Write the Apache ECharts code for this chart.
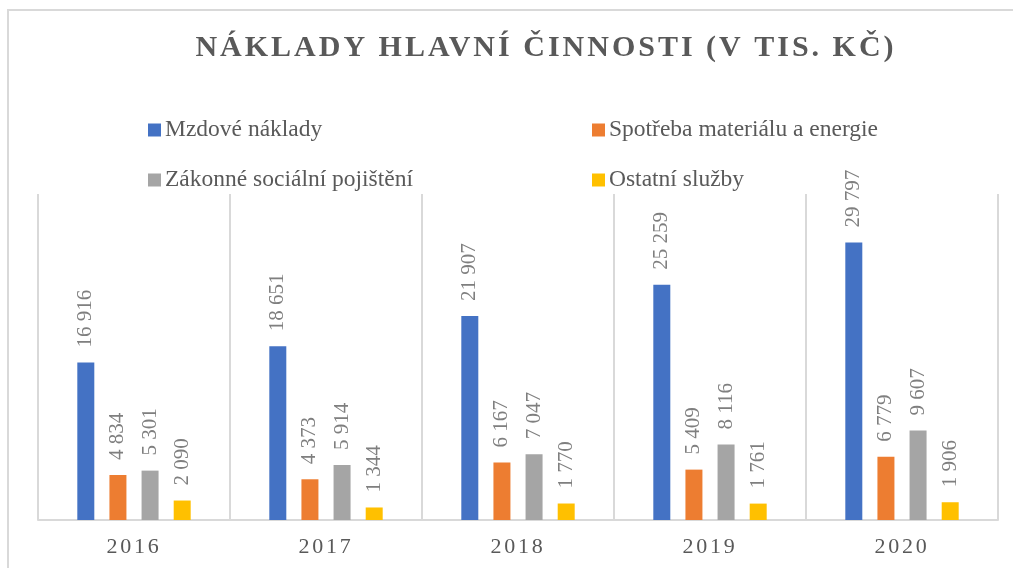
<!DOCTYPE html>
<html>
<head>
<meta charset="utf-8">
<script src="https://cdn.jsdelivr.net/npm/echarts@6/dist/echarts.min.js"></script>
<style>
html,body{margin:0;padding:0;background:#fff;}
#chart{width:1013px;height:568px;}
</style>
</head>
<body>
<div id="chart"></div>
<script>
const titleText = 'NÁKLADY HLAVNÍ ČINNOSTI (V TIS. KČ)';
const categories = ['2016', '2017', '2018', '2019', '2020'];
const seriesNames = ['Mzdové náklady', 'Spotřeba materiálu a energie', 'Zákonné sociální pojištění', 'Ostatní služby'];
const mzdove = [16916, 18651, 21907, 25259, 29797];
const spotreba = [4834, 4373, 6167, 5409, 6779];
const pojisteni = [5301, 5914, 7047, 8116, 9607];
const sluzby = [2090, 1344, 1770, 1761, 1906];
const colors = ['#4472C4', '#ED7D31', '#A5A5A5', '#FFC000'];

// letter spacing for the title and category labels only (canvas native letterSpacing)
(function () {
  const proto = CanvasRenderingContext2D.prototype;
  const orig = proto.fillText;
  proto.fillText = function (t, x, y, w) {
    let ls = null;
    if (t === titleText) ls = '3px';
    else if (categories.indexOf(t) >= 0) ls = '2.7px';
    if (ls !== null && 'letterSpacing' in this) {
      this.save();
      const f = this.font;
      this.letterSpacing = ls;
      this.font = f;
      const r = w === undefined ? orig.call(this, t, x, y) : orig.call(this, t, x, y, w);
      this.restore();
      return r;
    }
    return w === undefined ? orig.call(this, t, x, y) : orig.call(this, t, x, y, w);
  };
})();

const fmt = v => String(v).replace(/\B(?=(\d{3})+(?!\d))/g, ' ');
const serif = '"Liberation Serif", "Times New Roman", serif';

function mkSeries(name, data, color) {
  return {
    name: name,
    type: 'bar',
    data: data,
    barWidth: 17,
    barGap: '89%',
    itemStyle: { color: color },
    label: {
      show: true,
      position: 'top',
      rotate: 90,
      align: 'left',
      verticalAlign: 'middle',
      distance: 15,
      fontFamily: serif,
      fontSize: 21,
      color: '#7f7f7f',
      formatter: p => fmt(p.value)
    }
  };
}

const legendText = { fontFamily: serif, fontSize: 23.5, color: '#595959', padding: [0, 0, 0, -1] };

const chart = echarts.init(document.getElementById('chart'));
chart.setOption({
  animation: false,
  backgroundColor: '#fff',
  color: colors,
  graphic: [{
    type: 'rect',
    shape: { x: 8, y: 10, width: 1200, height: 700 },
    style: { fill: 'none', stroke: '#d9d9d9', lineWidth: 2 },
    silent: true
  }],
  title: {
    text: titleText,
    left: 541,
    textAlign: 'center',
    top: 28,
    textStyle: { fontFamily: serif, fontWeight: 'bold', fontSize: 30, color: '#595959' }
  },
  legend: [{
    data: [seriesNames[0], seriesNames[2]],
    orient: 'vertical',
    left: 143,
    top: 113,
    itemGap: 26,
    itemWidth: 13,
    itemHeight: 13,
    icon: 'rect',
    textStyle: legendText
  }, {
    data: [seriesNames[1], seriesNames[3]],
    orient: 'vertical',
    left: 587,
    top: 113,
    itemGap: 26,
    itemWidth: 13,
    itemHeight: 13,
    icon: 'rect',
    textStyle: legendText
  }],
  grid: { left: 38, right: 15, top: 194, bottom: 48, containLabel: false },
  xAxis: {
    type: 'category',
    data: categories,
    axisLine: { lineStyle: { color: '#d9d9d9', width: 2 } },
    axisTick: { show: false },
    splitLine: { show: true, lineStyle: { color: '#d9d9d9', width: 2 } },
    axisLabel: { fontFamily: serif, fontSize: 22, color: '#595959', margin: 16 }
  },
  yAxis: {
    type: 'value',
    min: 0,
    max: 35000,
    interval: 5000,
    show: false,
    splitLine: { show: false }
  },
  series: [
    mkSeries(seriesNames[0], mzdove, colors[0]),
    mkSeries(seriesNames[1], spotreba, colors[1]),
    mkSeries(seriesNames[2], pojisteni, colors[2]),
    mkSeries(seriesNames[3], sluzby, colors[3])
  ]
});
</script>
</body>
</html>
